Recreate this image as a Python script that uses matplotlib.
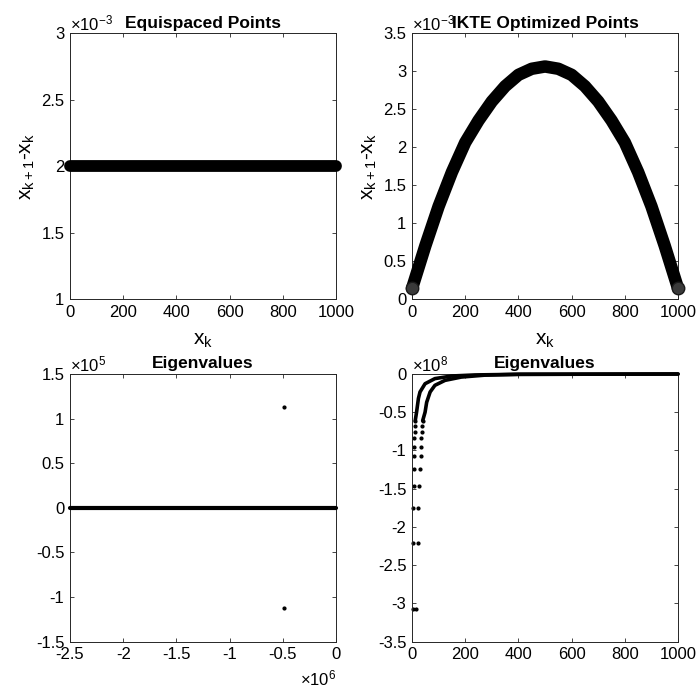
import numpy as np
import matplotlib
matplotlib.use("Agg")
import matplotlib.pyplot as plt
from matplotlib.ticker import FuncFormatter, MultipleLocator

plt.rcParams['font.family'] = ['Liberation Sans', 'DejaVu Sans']
plt.rcParams['mathtext.fontset'] = 'custom'
plt.rcParams['mathtext.rm'] = 'Liberation Sans'
plt.rcParams['mathtext.it'] = 'Liberation Sans:italic'
plt.rcParams['font.size'] = 12

# %% spacing of the equispaced grid (x_k, x_{k+1}-x_k)
equi_x = [0, 1000]
equi_dx = [2.0e-3, 2.0e-3]

# %% spacing of the optimized grid
opt_x = [0, 25, 50, 75, 100, 150, 200, 250, 300, 350, 400, 450, 500,
         550, 600, 650, 700, 750, 800, 850, 900, 925, 950, 975, 1000]
opt_dx = [0.14, 0.42, 0.70, 0.96, 1.22, 1.67, 2.06, 2.35, 2.60, 2.80, 2.95, 3.03, 3.06,
          3.03, 2.95, 2.80, 2.60, 2.35, 2.06, 1.67, 1.22, 0.96, 0.70, 0.42, 0.14]
opt_dx = [v * 1e-3 for v in opt_dx]

# %% eigenvalues, equispaced operator (real, imag)
eq_eig_re_line = [-2.5e6, 0]
eq_eig_im_line = [0, 0]
eq_eig_re_pair = [-0.49e6, -0.49e6]
eq_eig_im_pair = [1.125e5, -1.125e5]

# %% eigenvalues, optimized operator (two branches)
br1_dots_x = [2, 4, 4, 6, 6, 8, 8, 9, 10, 11, 12]
br1_dots_y = [-3.07, -2.21, -1.75, -1.46, -1.24, -1.07, -0.95, -0.84, -0.76, -0.68, -0.61]
br2_dots_x = [16, 21, 24, 26, 29, 32, 34, 35, 36, 39, 40]
br2_dots_y = [-3.07, -2.21, -1.75, -1.46, -1.24, -1.07, -0.95, -0.84, -0.76, -0.68, -0.61]
br1_x = [12, 17, 24, 30, 49, 86, 149, 237, 400, 1000]
br1_y = [-0.61, -0.50, -0.32, -0.235, -0.127, -0.06, -0.026, -0.012, -0.004, 0.0]
br2_x = [40, 49, 55, 68, 86, 124, 185, 273, 400, 1000]
br2_y = [-0.61, -0.50, -0.37, -0.235, -0.148, -0.083, -0.04, -0.015, -0.004, 0.0]
br1_dots_y = [v * 1e8 for v in br1_dots_y]
br2_dots_y = [v * 1e8 for v in br2_dots_y]
br1_y = [v * 1e8 for v in br1_y]
br2_y = [v * 1e8 for v in br2_y]

AX_COL = '#262626'


def style_axes(ax, xlim, ylim, xstep, ystep, xscale=1.0, yscale=1.0):
    ax.set_xlim(*xlim)
    ax.set_ylim(*ylim)
    ax.xaxis.set_major_locator(MultipleLocator(xstep))
    ax.yaxis.set_major_locator(MultipleLocator(ystep))
    ax.xaxis.set_major_formatter(FuncFormatter(lambda v, p: '%g' % round(v / xscale, 6)))
    ax.yaxis.set_major_formatter(FuncFormatter(lambda v, p: '%g' % round(v / yscale, 6)))
    ax.tick_params(direction='in', length=3, width=0.6, colors=AX_COL,
                   top=True, right=True, labelcolor='black', pad=4, labelsize=12)
    for s in ax.spines.values():
        s.set_color(AX_COL)
        s.set_linewidth(0.7)


def exp_text(ax, txt, x=0.0, y=1.0, ha='left', va='bottom'):
    ax.text(x, y, txt, transform=ax.transAxes, ha=ha, va=va, fontsize=12)


fig = plt.figure(figsize=(6.96, 6.93), dpi=100)
ax1 = fig.add_axes([0.1006, 0.5685, 0.3822, 0.3838])
ax2 = fig.add_axes([0.5920, 0.5685, 0.3822, 0.3838])
ax3 = fig.add_axes([0.1006, 0.0740, 0.3822, 0.3863])
ax4 = fig.add_axes([0.5920, 0.0740, 0.3822, 0.3863])

ylab = r'x$_{\rm k+1}$-x$_{\rm k}$'
xlab = r'x$_{\rm k}$'
TITLE_KW = dict(fontweight='bold', fontsize=12.5, pad=4)
LABEL_FS = 15

# top left
ax1.plot(equi_x, equi_dx, color='black', lw=8.5, solid_capstyle='round', clip_on=False, zorder=3)
style_axes(ax1, (0, 1000), (1e-3, 3e-3), 200, 0.5e-3, yscale=1e-3)
ax1.set_title('Equispaced Points', **TITLE_KW)
ax1.set_ylabel(ylab, labelpad=3, fontsize=LABEL_FS)
ax1.set_xlabel(xlab, labelpad=8, fontsize=LABEL_FS)
exp_text(ax1, r'$\times10^{-3}$')

# top right
ax2.plot(opt_x, opt_dx, color='black', lw=9.0, solid_capstyle='round', solid_joinstyle='round',
         clip_on=False, zorder=3)
ax2.plot([opt_x[0], opt_x[-1]], [opt_dx[0], opt_dx[-1]], 'o', ms=9, mfc='#3a3a3a',
         mec='#1a1a1a', mew=1, clip_on=False, zorder=4, ls='none')
style_axes(ax2, (0, 1000), (0, 3.5e-3), 200, 0.5e-3, yscale=1e-3)
ax2.set_title('IKTE Optimized Points', **TITLE_KW)
ax2.set_ylabel(ylab, labelpad=3, fontsize=LABEL_FS)
ax2.set_xlabel(xlab, labelpad=8, fontsize=LABEL_FS)
exp_text(ax2, r'$\times10^{-3}$')

# bottom left
ax3.plot(eq_eig_re_line, eq_eig_im_line, color='black', lw=3, solid_capstyle='round',
         clip_on=False, zorder=3)
ax3.plot(eq_eig_re_pair, eq_eig_im_pair, 'k.', ms=4)
style_axes(ax3, (-2.5e6, 0), (-1.5e5, 1.5e5), 0.5e6, 0.5e5, xscale=1e6, yscale=1e5)
ax3.set_title('Eigenvalues', **TITLE_KW)
exp_text(ax3, r'$\times10^{5}$')
exp_text(ax3, r'$\times10^{6}$', x=1.0, y=-0.1, ha='right', va='top')

# bottom right
ax4.plot(br1_x, br1_y, color='black', lw=2.6, solid_capstyle='round', clip_on=False, zorder=3)
ax4.plot(br2_x, br2_y, color='black', lw=2.6, solid_capstyle='round', clip_on=False, zorder=3)
ax4.plot(br1_dots_x, br1_dots_y, 'k.', ms=4, clip_on=False)
ax4.plot(br2_dots_x, br2_dots_y, 'k.', ms=4, clip_on=False)
style_axes(ax4, (0, 1000), (-3.5e8, 0), 200, 0.5e8, yscale=1e8)
ax4.set_title('Eigenvalues', **TITLE_KW)
exp_text(ax4, r'$\times10^{8}$')

fig.savefig('out.png', dpi=100)
